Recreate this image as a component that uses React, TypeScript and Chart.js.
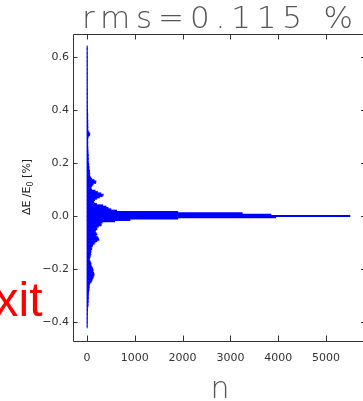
import React, { useEffect, useRef } from "react";
import { Chart, registerables } from "chart.js";

Chart.register(...registerables);

// Histogram bins of ΔE/E0 [%]: first bin centre and bin width
const BIN_START = -0.42;
const BIN_WIDTH = 0.005;

// counts per bin, from -0.420 upward to 0.640
const countsLowTail = [
  6, 6, 7, 8, 8, 9, 8, 10, 9, 10, 12, 10, 12, 14, 12, 15, 20, 25, 22, 25,
  28, 25, 30, 28, 30, 30, 35, 35, 45, 40, 50, 45, 50, 60, 85, 100, 110, 125,
  130, 145, 150, 140, 125, 130, 120, 110, 95, 80, 85, 75, 60, 50, 55, 65, 70,
  80, 75, 85, 80, 100, 90, 110, 120, 150, 170, 210, 250, 240, 220, 180, 210,
  190, 170, 180, 210, 200, 240, 300, 290, 320,
];
const countsCore = [580, 900, 1900, 3950, 5500, 3850, 3250, 1900, 620];
const countsHighTail = [
  500, 440, 400, 330, 200, 150, 140, 160, 200, 260, 320, 340, 290, 220, 170,
  100, 80, 90, 110, 130, 180, 190, 150, 100, 80, 60, 55, 60, 50, 55, 45, 40,
  45, 35, 40, 30, 30, 25, 30, 28, 25, 30, 22, 25, 20, 22, 18, 20, 15, 18, 16,
  20, 15, 18, 20, 30, 55, 60, 45, 25, 20, 18, 22, 15, 20, 18, 15, 20, 14, 16,
  15, 18, 14, 15, 12, 14, 12, 10, 11, 10, 12, 9, 10, 11, 10, 9, 10, 12, 10, 9,
  11, 10, 9, 10, 8, 10, 9, 10, 11, 9, 10, 8, 9, 10, 9, 8, 10, 9, 8, 9, 10, 8,
  9, 8, 10, 9, 8, 9, 8, 7, 8, 9, 8, 7,
];

const xTicks = [0, 1000, 2000, 3000, 4000, 5000];
const yTicks = [-0.4, -0.2, 0.0, 0.2, 0.4, 0.6];
const titleText = "rms=0.115 %";
const xLabel = "n";
const sideText = "Exit";

export default function App() {
  const ref = useRef<HTMLCanvasElement>(null);

  useEffect(() => {
    document.body.style.margin = "0";
    document.body.style.overflow = "hidden";
    const canvas = ref.current!;
    const counts = [...countsLowTail, ...countsCore, ...countsHighTail];
    const data = counts.map((c, i) => ({
      x: c,
      y: +(BIN_START + i * BIN_WIDTH).toFixed(3),
    }));

    const decor = {
      id: "decor",
      afterDraw(chart: any) {
        const ctx = chart.ctx as CanvasRenderingContext2D;
        const a = chart.chartArea;
        const xs = chart.scales.x;
        const ys = chart.scales.y;
        ctx.save();
        ctx.strokeStyle = "#333";
        ctx.lineWidth = 1;
        ctx.beginPath();
        const L = Math.round(a.left) + 0.5;
        const B = Math.round(a.bottom) + 0.5;
        const T = Math.round(a.top) - 0.5;
        const R = a.right;
        ctx.moveTo(L, T);
        ctx.lineTo(L, B);
        ctx.lineTo(R, B);
        ctx.moveTo(L, T);
        ctx.lineTo(R, T);
        for (const v of xTicks) {
          const px = Math.round(xs.getPixelForValue(v)) + 0.5;
          ctx.moveTo(px, B);
          ctx.lineTo(px, B - 6);
          ctx.moveTo(px, T);
          ctx.lineTo(px, T + 5);
        }
        for (const v of yTicks) {
          const py = Math.round(ys.getPixelForValue(v)) + 0.5;
          ctx.moveTo(L, py);
          ctx.lineTo(L + 4, py);
          ctx.moveTo(R - 2, py);
          ctx.lineTo(R, py);
        }
        ctx.stroke();

        // title
        ctx.fillStyle = "#555";
        ctx.font = "200 31px 'DejaVu Sans', sans-serif";
        ctx.textAlign = "left";
        ctx.textBaseline = "alphabetic";
        (ctx as any).letterSpacing = "0px";
        const w0 = ctx.measureText(titleText).width;
        const sp = (271 - w0) / (titleText.length - 1);
        (ctx as any).letterSpacing = sp + "px";
        ctx.fillText(titleText, 82, 28);
        (ctx as any).letterSpacing = "0px";

        // x label
        ctx.font = "200 30px 'DejaVu Sans', sans-serif";
        ctx.textAlign = "center";
        ctx.fillText(xLabel, 220, 398);

        // y label with subscript
        ctx.fillStyle = "#222";
        ctx.translate(26, 187);
        ctx.rotate(-Math.PI / 2);
        const f1 = "11px 'DejaVu Sans', sans-serif";
        const f2 = "8px 'DejaVu Sans', sans-serif";
        ctx.font = f1;
        const p1 = "ΔE /E";
        const p3 = " [%]";
        const w1 = ctx.measureText(p1).width;
        const w3 = ctx.measureText(p3).width;
        ctx.font = f2;
        const w2 = ctx.measureText("0").width;
        const total = w1 + w2 + w3;
        const x0 = -total / 2;
        ctx.textAlign = "left";
        ctx.font = f1;
        ctx.fillText(p1, x0, 4);
        ctx.font = f2;
        ctx.fillText("0", x0 + w1, 7);
        ctx.font = f1;
        ctx.fillText(p3, x0 + w1 + w2, 4);
        ctx.setTransform(1, 0, 0, 1, 0, 0);

        // red side text (clipped at the left edge)
        ctx.fillStyle = "#ff0000";
        ctx.font = "48px 'Liberation Sans', Arial, sans-serif";
        ctx.textAlign = "right";
        ctx.fillText(sideText, 42.5, 316);
        ctx.restore();
      },
    };

    const chart = new Chart(canvas, {
      type: "bar",
      data: {
        datasets: [
          {
            data: data as any,
            backgroundColor: "#0000ff",
            borderWidth: 0,
            barPercentage: 1,
            categoryPercentage: 1,
          },
        ],
      },
      options: {
        indexAxis: "y",
        animation: false,
        responsive: false,
        events: [],
        layout: { padding: { top: 35, left: 0, right: 0, bottom: 0 } },
        plugins: {
          legend: { display: false },
          tooltip: { enabled: false },
          title: { display: false },
        },
        scales: {
          x: {
            type: "linear",
            position: "bottom",
            min: -293,
            max: 5774,
            offset: false,
            grid: { display: false, drawTicks: false, offset: false },
            border: { display: false },
            afterFit: (s: any) => {
              s.height = 60;
            },
            afterBuildTicks: (s: any) => {
              s.ticks = xTicks.map((value) => ({ value }));
            },
            ticks: {
              padding: 11,
              color: "#333",
              font: { family: "'DejaVu Sans', sans-serif", size: 11 },
              callback: (v: any) => String(v),
              maxRotation: 0,
              autoSkip: false,
            },
          },
          y: {
            type: "linear",
            position: "left",
            min: -0.472,
            max: 0.683,
            offset: false,
            grid: { display: false, drawTicks: false, offset: false },
            border: { display: false },
            afterFit: (s: any) => {
              s.width = 73;
            },
            afterBuildTicks: (s: any) => {
              s.ticks = yTicks.map((value) => ({ value }));
            },
            ticks: {
              padding: 4,
              color: "#333",
              font: { family: "'DejaVu Sans', sans-serif", size: 11 },
              callback: (v: any) => {
                const s = Number(v).toFixed(1);
                return s.startsWith("-") ? "−" + s.slice(1) : s;
              },
              autoSkip: false,
            },
          },
        },
      },
      plugins: [decor],
    } as any);

    return () => chart.destroy();
  }, []);

  return (
    <div style={{ width: 363, height: 401 }}>
      <canvas ref={ref} width={363} height={401} style={{ display: "block" }} />
    </div>
  );
}
